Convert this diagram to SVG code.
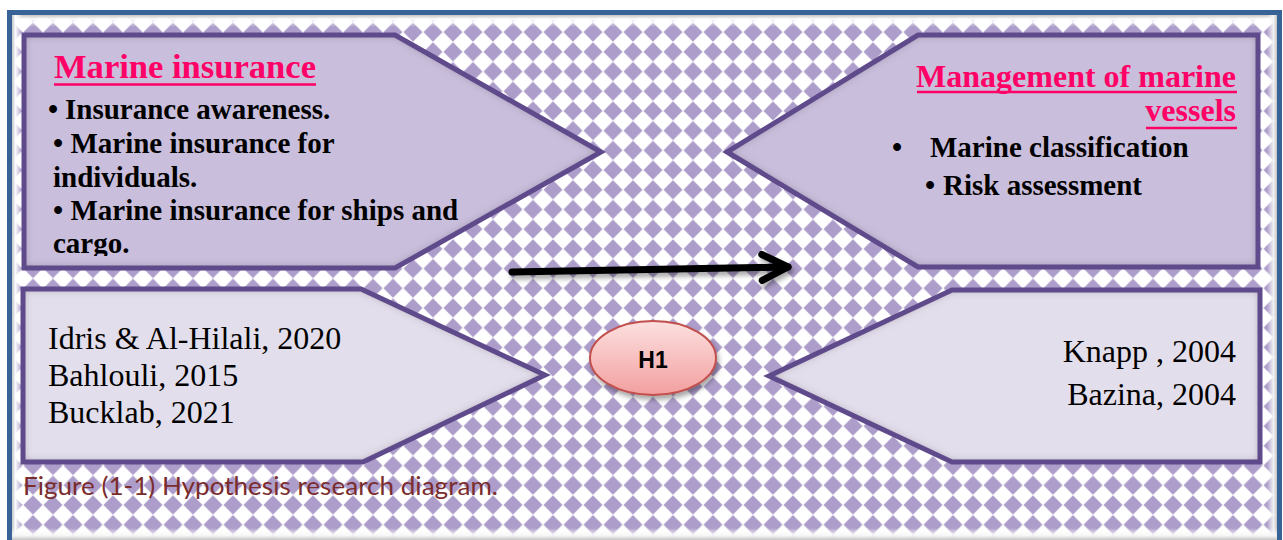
<svg xmlns="http://www.w3.org/2000/svg" width="1283" height="540" viewBox="0 0 1283 540">
  <style>
    .frame { fill: none; stroke: #386397; stroke-width: 5; }
    .outline { fill: none; stroke: #5f4a8b; stroke-width: 5; stroke-linejoin: miter; }
    .topfill { fill: #c9bedb; }
    .botfill { fill: #e3deeb; }
    .title { font-family: "Liberation Serif", "Times New Roman", serif; font-weight: bold; fill: #ff0066; }
    .uline { stroke: #ff0066; stroke-width: 2.6; }
    .bul { font-family: "Liberation Serif", "Times New Roman", serif; font-weight: bold; font-size: 29px; fill: #000; }
    .ref { font-family: "Liberation Serif", "Times New Roman", serif; font-size: 32px; fill: #000; }
    .cap { font-family: Lato, "Liberation Sans", sans-serif; font-size: 25px; fill: #7b2c2c; }
    .h1t { font-family: "Liberation Sans", Arial, sans-serif; font-weight: bold; font-size: 23px; fill: #000; }
  </style>
  <defs>
    <pattern id="dia" patternUnits="userSpaceOnUse" x="3" y="22.3" width="20" height="19.7">
      <rect width="20" height="19.7" fill="#ffffff"/>
      <path d="M10 0.6 L19.3 9.85 L10 19.1 L0.7 9.85 Z" fill="#ad9dca" stroke="#ad9dca" stroke-width="0.5" stroke-linejoin="round"/>
    </pattern>
    <linearGradient id="gTop" x1="0" y1="0" x2="0" y2="1">
      <stop offset="0" stop-color="#c4c4c4"/>
      <stop offset="0.35" stop-color="#ffffff" stop-opacity="0.95"/>
      <stop offset="1" stop-color="#ffffff" stop-opacity="0"/>
    </linearGradient>
    <linearGradient id="gLeft" x1="0" y1="0" x2="1" y2="0">
      <stop offset="0" stop-color="#c4c4c4"/>
      <stop offset="0.35" stop-color="#ffffff" stop-opacity="0.95"/>
      <stop offset="1" stop-color="#ffffff" stop-opacity="0"/>
    </linearGradient>
    <linearGradient id="gRight" x1="1" y1="0" x2="0" y2="0">
      <stop offset="0" stop-color="#c4c4c4"/>
      <stop offset="0.35" stop-color="#f4f4f4" stop-opacity="0.95"/>
      <stop offset="1" stop-color="#ffffff" stop-opacity="0"/>
    </linearGradient>
    <linearGradient id="gBot" x1="0" y1="1" x2="0" y2="0">
      <stop offset="0" stop-color="#c4c4c4"/>
      <stop offset="0.35" stop-color="#f4f4f4" stop-opacity="0.95"/>
      <stop offset="1" stop-color="#ffffff" stop-opacity="0"/>
    </linearGradient>
    <linearGradient id="gH1" x1="0" y1="0" x2="0" y2="1">
      <stop offset="0" stop-color="#fde0e0"/>
      <stop offset="1" stop-color="#f29f9f"/>
    </linearGradient>
    <filter id="inner" x="-5%" y="-5%" width="110%" height="110%">
      <feFlood flood-color="#4a4a55" flood-opacity="0.75" result="f"/>
      <feComposite in="f" in2="SourceAlpha" operator="out" result="inv"/>
      <feGaussianBlur in="inv" stdDeviation="4" result="b"/>
      <feComposite in="b" in2="SourceAlpha" operator="in" result="sh"/>
      <feMerge><feMergeNode in="SourceGraphic"/><feMergeNode in="sh"/></feMerge>
    </filter>
    <filter id="drop" x="-10%" y="-30%" width="120%" height="160%">
      <feDropShadow dx="2" dy="4" stdDeviation="2.5" flood-color="#000" flood-opacity="0.35"/>
    </filter>
    <filter id="dropArrow" filterUnits="userSpaceOnUse" x="490" y="230" width="340" height="80">
      <feDropShadow dx="2" dy="4" stdDeviation="2.5" flood-color="#000" flood-opacity="0.35"/>
    </filter>
    <marker id="ah" markerUnits="userSpaceOnUse" markerWidth="40" markerHeight="34" viewBox="0 0 40 34" refX="31" refY="17" orient="auto">
      <path d="M5 4 L31 17 L5 30" fill="none" stroke="#000" stroke-width="7" stroke-linecap="round" stroke-linejoin="round"/>
    </marker>
    <clipPath id="clipTL"><rect x="24" y="37" width="580" height="219"/></clipPath>
  </defs>

  <!-- background -->
  <rect x="0" y="0" width="1283" height="540" fill="#ffffff"/>
  <rect x="12" y="15" width="1265" height="525" fill="url(#dia)"/>
  <rect x="12" y="15" width="1265" height="12" fill="url(#gTop)"/>
  <rect x="12" y="15" width="10" height="525" fill="url(#gLeft)"/>
  <rect x="1267" y="15" width="10" height="525" fill="url(#gRight)"/>
  <rect x="12" y="528" width="1265" height="12" fill="url(#gBot)"/>
  <rect class="frame" x="9.5" y="12.5" width="1270" height="540"/>

  <!-- connectors -->
  <g id="connectors" filter="url(#dropArrow)">
    <line x1="512" y1="272" x2="788" y2="267" stroke="#000" stroke-width="7" stroke-linecap="round" marker-end="url(#ah)"/>
  </g>

  <!-- top-left node -->
  <g id="node-marine-insurance">
    <path class="topfill" filter="url(#inner)" d="M24 35 L395 35 L601 152 L395 268 L24 268 Z"/>
    <path class="outline" d="M24 35 L395 35 L601 152 L395 268 L24 268 Z"/>
    <text class="title" x="54" y="78" font-size="34" textLength="262" lengthAdjust="spacingAndGlyphs">Marine insurance</text>
    <line class="uline" x1="54" y1="84.5" x2="316" y2="84.5"/>
    <g clip-path="url(#clipTL)">
      <text class="bul" x="48" y="119">•</text>
      <text class="bul" x="65" y="119">Insurance awareness.</text>
      <text class="bul" x="53" y="153">• Marine insurance for</text>
      <text class="bul" x="53" y="187">individuals.</text>
      <text class="bul" x="53" y="220">• Marine insurance for ships and</text>
      <text class="bul" x="53" y="253">cargo.</text>
    </g>
  </g>

  <!-- top-right node -->
  <g id="node-management">
    <path class="topfill" filter="url(#inner)" d="M918 35 L1258 35 L1258 267 L918 267 L727 152 Z"/>
    <path class="outline" d="M918 35 L1258 35 L1258 267 L918 267 L727 152 Z"/>
    <text class="title" x="1236" y="87" font-size="32" text-anchor="end">Management of marine</text>
    <line class="uline" x1="917" y1="92" x2="1237" y2="92"/>
    <text class="title" x="1236" y="121" font-size="32" text-anchor="end">vessels</text>
    <line class="uline" x1="1146" y1="128" x2="1237" y2="128"/>
    <text class="bul" x="892" y="157">•</text>
    <text class="bul" x="930" y="157">Marine classification</text>
    <text class="bul" x="925" y="195">•</text>
    <text class="bul" x="943" y="195">Risk assessment</text>
  </g>

  <!-- bottom-left node -->
  <g id="node-refs-left">
    <path class="botfill" filter="url(#inner)" d="M23 289 L361 289 L545 375 L363 462 L23 462 Z"/>
    <path class="outline" d="M23 289 L361 289 L545 375 L363 462 L23 462 Z"/>
    <text class="ref" x="48" y="349">Idris &amp; Al-Hilali, 2020</text>
    <text class="ref" x="48" y="386">Bahlouli, 2015</text>
    <text class="ref" x="48" y="423">Bucklab, 2021</text>
  </g>

  <!-- bottom-right node -->
  <g id="node-refs-right">
    <path class="botfill" filter="url(#inner)" d="M952 290 L1260 290 L1260 462 L952 462 L769 376 Z"/>
    <path class="outline" d="M952 290 L1260 290 L1260 462 L952 462 L769 376 Z"/>
    <text class="ref" x="1236" y="362" text-anchor="end">Knapp , 2004</text>
    <text class="ref" x="1236" y="405" text-anchor="end">Bazina, 2004</text>
  </g>

  <!-- hypothesis node -->
  <g id="node-h1">
    <ellipse cx="653" cy="358" rx="63" ry="37" fill="url(#gH1)" stroke="#c0504d" stroke-width="2" filter="url(#drop)"/>
    <text class="h1t" x="653" y="368" text-anchor="middle">H1</text>
  </g>

  <!-- caption -->
  <g id="caption">
    <text class="cap" x="23" y="495" textLength="475" lengthAdjust="spacingAndGlyphs">Figure (1-1) Hypothesis research diagram.</text>
  </g>
</svg>
